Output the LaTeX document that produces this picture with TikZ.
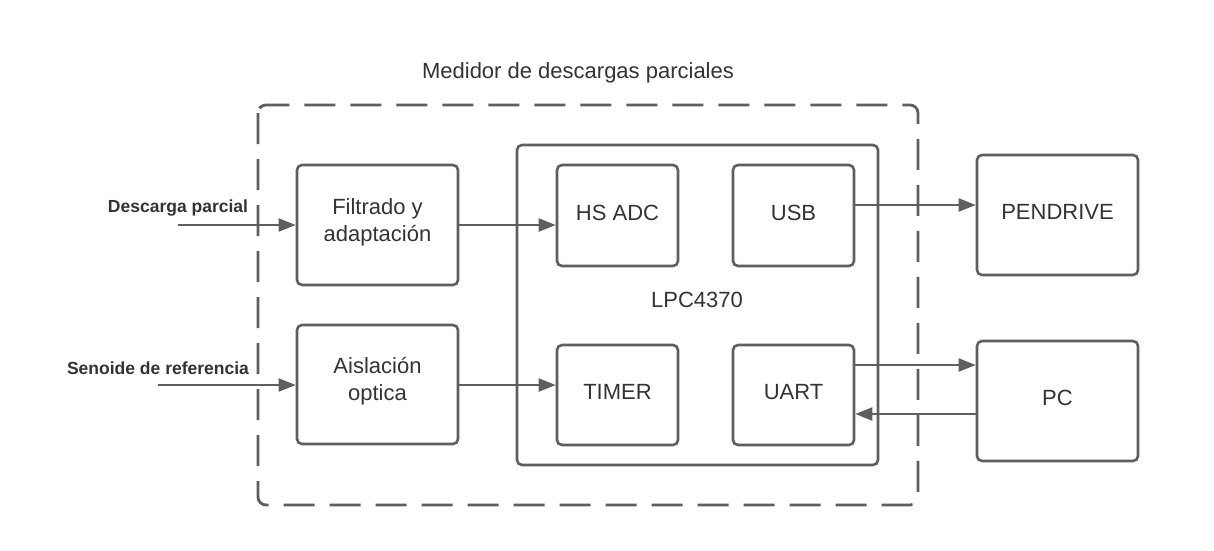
\documentclass[tikz,border=0pt]{standalone}
\usepackage{fontspec}
\setmainfont{Liberation Sans}
\usetikzlibrary{arrows.meta,calc}
\definecolor{ln}{HTML}{5F5F5F}
\definecolor{tx}{HTML}{333333}
\begin{document}
\begin{tikzpicture}[x=1pt,y=-1pt,
  blk/.style={draw=ln,line width=2.6pt,rounded corners=5pt,inner sep=0pt},
  intext/.style={label={[text=tx,align=center,font=\fontsize{22}{27}\selectfont,inner sep=0pt,yshift=3pt]center:#1}},
  conn/.style={draw=ln,line width=2pt,-{Triangle[length=17pt,width=13pt]}},
  lbl/.style={text=tx,font=\fontsize{17.5}{21}\selectfont\bfseries,inner sep=0pt},
  ttl/.style={text=tx,font=\fontsize{22}{27}\selectfont,inner sep=0pt}]
\useasboundingbox[fill=white] (0,0) rectangle (1214,550);
% outer dashed frame
\draw[ln,line width=2.8pt,rounded corners=8pt,dash pattern=on 31pt off 15pt] (258,105) rectangle (918,505);
\node[ttl] (title) at (578,73) {Medidor de descargas parciales};
% blocks
\node[blk,minimum width=161pt,minimum height=120pt,intext={Filtrado y\\adaptación}] (filt) at (377.5,225) {};
\node[blk,minimum width=161pt,minimum height=119pt,intext={Aislación\\optica}] (ais) at (377.5,384.5) {};
\node[blk,minimum width=361pt,minimum height=320pt] (lpc) at (697.5,305) {};
\node[ttl] (lpclbl) at (697,300) {LPC4370};
\node[blk,minimum width=121pt,minimum height=101pt,intext={HS ADC}] (adc) at (617.5,215.5) {};
\node[blk,minimum width=121pt,minimum height=101pt,intext={USB}] (usb) at (793.5,215.5) {};
\node[blk,minimum width=121pt,minimum height=100pt,intext={TIMER}] (timer) at (617.5,395) {};
\node[blk,minimum width=121pt,minimum height=100pt,intext={UART}] (uart) at (793.5,395) {};
\node[blk,minimum width=161pt,minimum height=120pt,intext={PENDRIVE}] (pend) at (1057.5,215) {};
\node[blk,minimum width=161pt,minimum height=120pt,intext={PC}] (pc) at (1057.5,401) {};
% inputs
\coordinate (in1) at (178,225);
\coordinate (in2) at (158,385);
\node[lbl] (l1) at (178,208) {Descarga parcial};
\node[lbl] (l2) at (158,368) {Senoide de referencia};
\draw[conn] (in1) -- (filt.west);
\draw[conn] (in2) -- (in2 -| ais.west);
\draw[conn] (filt.east) -- (filt.east -| adc.west);
\draw[conn] (ais.east |- in2) -- (in2 -| timer.west);
\draw[conn] (usb.east |- 0,205) -- (pend.west |- 0,205);
\draw[conn] (uart.east |- 0,365) -- (pc.west |- 0,365);
\draw[conn] (pc.west |- 0,414) -- (uart.east |- 0,414);
\end{tikzpicture}
\end{document}
